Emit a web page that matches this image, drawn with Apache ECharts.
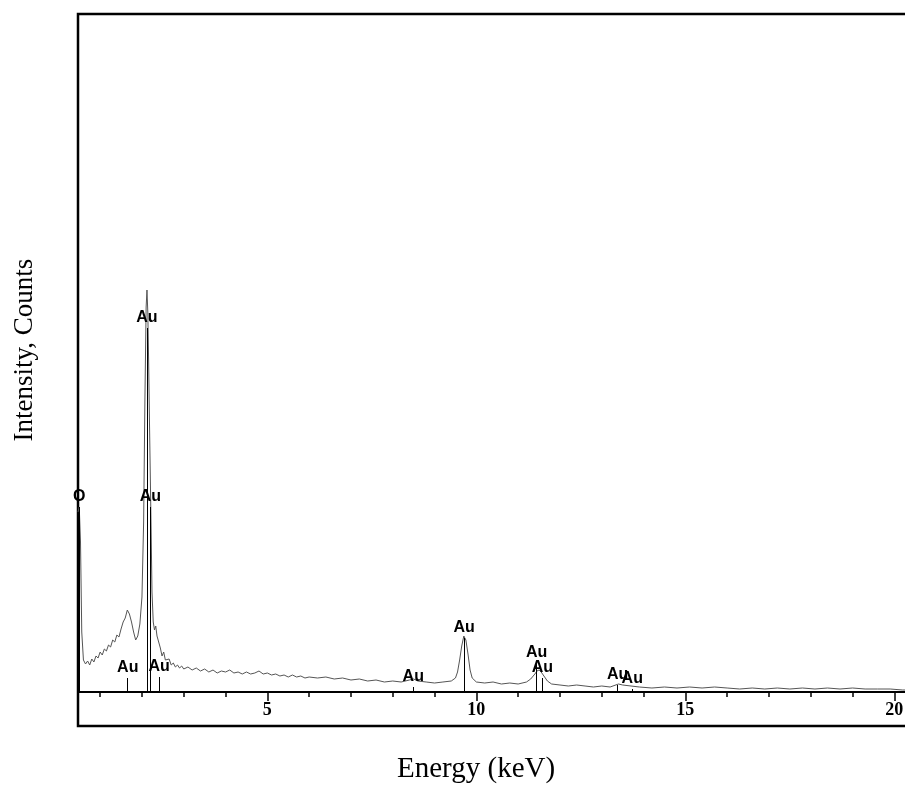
<!DOCTYPE html>
<html>
<head>
<meta charset="utf-8">
<script src="https://cdn.jsdelivr.net/npm/echarts@6/dist/echarts.min.js"></script>
<style>
html,body{margin:0;padding:0;background:#fff;}
#main{width:905px;height:787px;}
</style>
</head>
<body>
<div id="main"></div>
<script>
// spectrum, energy in keV, counts (arbitrary units)
var energy = [0.47,0.50,0.53,0.56,0.60,0.65,0.70,0.75,0.80,0.85,0.90,0.95,1.00,1.05,1.10,1.15,1.20,1.25,1.30,1.35,1.40,1.45,1.50,1.55,1.60,1.65,1.70,1.75,1.80,1.85,1.90,1.95,2.00,2.04,2.07,2.10,2.12,2.14,2.16,2.18,2.20,2.22,2.24,2.27,2.30,2.33,2.36,2.40,2.44,2.48,2.52,2.56,2.60,2.65,2.70,2.75,2.80,2.85,2.90,2.95,3.00,
  3.1,3.2,3.3,3.4,3.5,3.6,3.7,3.8,3.9,4.0,4.1,4.2,4.3,4.4,4.5,4.6,4.7,4.8,4.9,5.0,5.1,5.2,5.3,5.4,5.5,5.6,5.7,5.8,5.9,6.0,6.2,6.4,6.6,6.8,7.0,7.2,7.4,7.6,7.8,8.0,8.2,8.4,8.5,8.6,8.8,9.0,9.2,9.4,9.5,9.55,9.6,9.65,9.7,9.75,9.8,9.85,9.9,10.0,10.2,10.4,10.6,10.8,11.0,11.2,11.3,11.4,11.45,11.5,11.55,11.6,11.7,11.8,12.0,12.2,12.4,12.6,12.8,13.0,13.2,13.4,13.5,13.7,13.9,14.2,14.5,14.8,15.1,15.4,15.7,16.0,16.3,16.6,16.9,17.2,17.5,17.8,18.1,18.4,18.7,19.0,19.3,19.6,19.9,20.2,20.47];
var counts = [180,185,150,60,32,28,31,27,33,30,36,34,40,37,43,41,47,45,52,50,57,55,63,70,74,82,78,70,60,52,56,68,95,170,290,385,402,380,330,270,215,160,100,70,62,66,56,50,44,36,40,32,30,33,27,29,25,27,24,26,23,
  25,22,24,21,23,20,22,19,21,20,22,19,20,18,20,18,19,21,18,19,17,18,16,17,15,17,15,16,14,15,14,15,13,14,12,13,11,12,10,11,10,12,13,11,10,9,10,11,14,20,32,46,56,52,38,22,14,10,9,10,8,9,8,10,13,18,21,22,20,17,11,8,7,6,7,6,5,6,5,8,7,6,5,4,5,4,5,4,5,4,3,4,3,4,3,4,3,4,3,4,3,3,3,2,2];

// element line markers
var markerEnergy = [0.50,1.66,2.12,2.20,2.41,8.49,9.71,11.44,11.58,13.38,13.73];
var markerHeight = [185,14,364,185,15,5,54,29,14,7,3];
var markerLabel = ['O','Au','Au','Au','Au','Au','Au','Au','Au','Au','Au'];

// ticks every keV, labelled every 5 keV
var minorTicks = [1,2,3,4,5,6,7,8,9,10,11,12,13,14,15,16,17,18,19,20];
var xTickLabels = [5,10,15,20];

var spectrum = [];
for (var i = 0; i < energy.length; i++) {
    spectrum.push([energy[i], counts[i]]);
}
var markers = [];
for (var j = 0; j < markerEnergy.length; j++) {
    markers.push([
        {coord: [markerEnergy[j], 0], name: markerLabel[j]},
        {coord: [markerEnergy[j], markerHeight[j]]}
    ]);
}

var myChart = echarts.init(document.getElementById('main'));
var option = {
    backgroundColor: '#fff',
    animation: false,
    title: {
        text: 'Energy (keV)',
        left: 397,
        top: 755,
        padding: 0,
        textStyle: {fontFamily: 'Liberation Serif', fontSize: 29, fontWeight: 'normal', color: '#000'}
    },
    grid: {
        left: 78,
        top: 14,
        right: -9,
        bottom: 61,
        outerBoundsMode: 'none',
        show: true,
        borderColor: '#000',
        borderWidth: 2.5
    },
    xAxis: [{
        type: 'value',
        min: 0.47,
        max: 20.47,
        position: 'bottom',
        offset: -34,      // baseline sits above the frame bottom
        axisLine: {onZero: false, lineStyle: {color: '#000', width: 2}},
        axisTick: {show: true, length: 5, customValues: minorTicks, lineStyle: {color: '#000', width: 1.5}},
        axisLabel: {show: false},
        splitLine: {show: false}
    }, {
        type: 'value',
        min: 0.47,
        max: 20.47,
        position: 'bottom',
        offset: -34,
        axisLine: {onZero: false, lineStyle: {color: '#000', width: 2}},
        axisTick: {show: true, length: 9, customValues: xTickLabels, lineStyle: {color: '#000', width: 1.5}},
        axisLabel: {
            show: true,
            margin: 9,
            color: '#000',
            fontFamily: 'Liberation Sans Narrow',
            fontWeight: 'bold',
            fontSize: 18,
            customValues: xTickLabels
        },
        splitLine: {show: false}
    }],
    yAxis: {
        type: 'value',
        min: -34,
        max: 678,
        name: 'Intensity, Counts',
        nameLocation: 'middle',
        nameGap: 40,
        nameTextStyle: {fontFamily: 'Liberation Serif', fontSize: 27, color: '#000', padding: [0, 0, 0, 40]},
        axisLine: {show: false},
        axisTick: {show: false},
        axisLabel: {show: false},
        splitLine: {show: false}
    },
    series: [{
        type: 'line',
        data: spectrum,
        showSymbol: false,
        lineStyle: {color: '#555', width: 1},
        markLine: {
            silent: true,
            symbol: ['none', 'none'],
            lineStyle: {color: '#000', width: 1, type: 'solid'},
            label: {
                show: true,
                position: 'end',
                distance: 2,
                formatter: '{b}',
                color: '#000',
                fontFamily: 'Liberation Sans',
                fontWeight: 'bold',
                fontSize: 16
            },
            data: markers
        }
    }]
};
myChart.setOption(option);
</script>
</body>
</html>
